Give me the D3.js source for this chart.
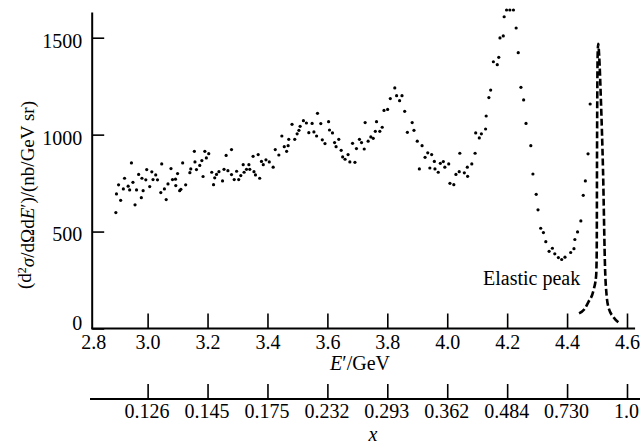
<!DOCTYPE html>
<html>
<head>
<meta charset="utf-8">
<script src="https://cdn.jsdelivr.net/npm/d3@7"></script>
<style>
  html, body { margin: 0; padding: 0; background: #fff; }
  svg { display: block; }
  svg text { font-family: "Liberation Serif", "Times New Roman", serif; fill: #000; }
</style>
</head>
<body>
<svg id="chart" width="640" height="446"></svg>
<script>
// ---------------- data ----------------
const energies = [
  2.894,2.896,2.903,2.910,2.919,2.923,2.935,2.940,2.946,2.951,2.958,2.963,2.970,2.979,2.981,2.985,2.994,2.997,3.007,3.014,
  3.018,3.027,3.033,3.044,3.047,3.056,3.062,3.068,3.078,3.083,3.093,3.094,3.100,3.107,3.111,3.117,3.127,3.141,3.144,3.156,
  3.158,3.163,3.174,3.181,3.185,3.191,3.196,3.204,3.214,3.220,3.224,3.230,3.238,3.250,3.255,3.262,3.268,3.280,3.280,3.289,
  3.297,3.304,3.311,3.319,3.322,3.330,3.338,3.341,3.352,3.355,3.360,3.369,3.374,3.380,3.386,3.395,3.406,3.419,3.426,3.438,
  3.448,3.456,3.464,3.469,3.471,3.482,3.491,3.499,3.505,3.509,3.520,3.530,3.538,3.549,3.555,3.564,3.567,3.578,3.583,3.592,
  3.604,3.607,3.617,3.624,3.629,3.638,3.646,3.651,3.659,3.669,3.675,3.684,3.692,3.697,3.707,3.714,3.723,3.726,3.736,3.745,
  3.753,3.760,3.764,3.775,3.783,3.789,3.801,3.810,3.825,3.831,3.841,3.849,3.858,3.867,3.883,3.889,3.900,3.907,3.916,3.926,
  3.935,3.942,3.948,3.957,3.959,3.970,3.977,3.987,3.992,4.005,4.009,4.022,4.029,4.040,4.042,
  4.057,4.068,4.067,4.082,4.093,4.095,4.107,4.114,4.128,4.130,4.139,4.145,4.154,4.167,4.172,4.176,4.187,4.190,4.198,4.209,
  4.221,4.230,4.237,4.246,4.255,4.263,4.279,4.286,4.297,4.303,4.312,4.321,4.329,4.340,4.351,4.359,4.371,4.382,4.393,4.412,
  4.423,4.426,4.435,4.446,4.454,4.461,4.470,4.477
];
const crossSections = [
  598,694,741,661,720,775,734,715,854,754,638,715,795,675,775,711,767,820,732,808,
  768,792,767,701,849,720,665,746,825,768,770,737,799,711,718,854,741,804,823,914,
  859,820,841,866,784,914,880,902,806,742,777,795,809,761,821,893,814,923,794,768,
  811,768,789,845,806,821,845,821,888,809,792,897,775,862,845,870,859,832,923,895,
  993,938,914,943,976,1053,976,1004,1022,1043,1072,1060,1010,1058,1014,993,1110,1057,973,954,
  1067,1024,1009,959,938,976,919,885,873,897,859,955,857,928,976,959,926,1062,966,988,
  981,1017,1067,1017,1038,1125,1130,1186,1241,1201,1175,1201,1120,1012,1062,1022,966,823,943,883,
  906,828,897,862,823,806,852,861,832,849,749,742,795,809,904,
  803,785,832,849,904,1009,983,1004,1029,1096,1191,1230,1376,1361,1399,1499,1509,1608,1643,1643,
  1643,1550,1423,1244,1179,1058,943,797,692,612,517,495,448,398,414,385,366,356,368,392,
  412,459,498,555,687,761,901,1158
];
// elastic peak (dashed curve)
const peakE = [4.440,4.457,4.471,4.488,4.497,4.499,4.500,4.502,4.504,4.507,4.513,4.520,4.527,4.532,4.538,4.555,4.571];
const peakV = [78,98,136,196,273,402,918,1410,1469,1410,1175,814,299,170,110,58,32];

const eTicks = [2.8,3.0,3.2,3.4,3.6,3.8,4.0,4.2,4.4,4.6];
const eTickLabels = ["2.8","3.0","3.2","3.4","3.6","3.8","4.0","4.2","4.4","4.6"];
const xBjTicks = [3.0,3.2,3.4,3.6,3.8,4.0,4.2,4.4,4.6];
const xBjLabels = ["0.126","0.145","0.175","0.232","0.293","0.362","0.484","0.730","1.0"];
const yTicks = [0,500,1000,1500];
const yTickLabels = ["0","500","1000","1500"];

// ---------------- scales ----------------
const SERIF = '"Liberation Serif", "Times New Roman", serif';
const svg = d3.select("#chart");
const x = d3.scaleLinear().domain([2.8, 4.6]).range([87.7, 627]);
const y = d3.scaleLinear().domain([0, 1500]).range([328.5, 37.7]);
const axisX = x(2.815);        // where the vertical axis sits
const FS = 20;

// ---------------- axes ----------------
svg.append("line")
  .attr("x1", axisX).attr("x2", axisX)
  .attr("y1", y(1630)).attr("y2", y(0))
  .attr("stroke", "#000").attr("stroke-width", 2);
svg.append("line")
  .attr("x1", axisX - 1).attr("x2", x(4.627))
  .attr("y1", y(0)).attr("y2", y(0))
  .attr("stroke", "#000").attr("stroke-width", 2);

function styleAxis(g) {
  g.attr("font-family", SERIF).attr("font-size", FS);
  g.select(".domain").remove();
  g.selectAll(".tick line").attr("stroke", "#000").attr("stroke-width", 1.6);
  g.selectAll(".tick text").attr("fill", "#000")
    .style("font-family", SERIF).style("font-size", FS + "px");
}

// y axis ticks (pointing right)
const yAxis = d3.axisLeft(y).tickValues(yTicks).tickFormat((d, i) => yTickLabels[i])
  .tickSizeInner(-12).tickSizeOuter(0).tickPadding(10);
const gy = svg.append("g").attr("transform", `translate(${axisX},0)`).call(yAxis);
styleAxis(gy);
gy.selectAll(".tick line").attr("x1", 0).attr("x2", 12);
gy.selectAll(".tick text").attr("x", -10)
  .attr("dy", d => d === 0 ? "0.05em" : "0.47em");

// E' axis ticks (pointing up)
const xAxis = d3.axisBottom(x).tickValues(eTicks).tickFormat((d, i) => eTickLabels[i])
  .tickSizeInner(-15).tickSizeOuter(0).tickPadding(6);
const gx = svg.append("g").attr("transform", `translate(0,${y(0)})`).call(xAxis);
styleAxis(gx);
gx.selectAll(".tick").filter(d => d === 2.8).select("line").remove();
gx.selectAll(".tick").filter(d => d === 2.8).select("text").attr("x", axisX - x(2.8) + 1);

// second (Bjorken x) axis
const lowerY = 399;
svg.append("line")
  .attr("x1", 90).attr("x2", 640).attr("y1", lowerY).attr("y2", lowerY)
  .attr("stroke", "#000").attr("stroke-width", 2);
const xAxis2 = d3.axisBottom(x).tickValues(xBjTicks).tickFormat((d, i) => xBjLabels[i])
  .tickSizeInner(-15).tickSizeOuter(0).tickPadding(5);
const gx2 = svg.append("g").attr("transform", `translate(0,${lowerY})`).call(xAxis2);
styleAxis(gx2);
gx2.selectAll(".tick text").attr("x", -1);

// ---------------- titles ----------------
const xt = svg.append("text").attr("x", 360).attr("y", 370)
  .attr("text-anchor", "middle").style("font-size", FS + "px");
xt.append("tspan").style("font-style", "italic").text("E");
xt.append("tspan").text("\u2032/GeV");

svg.append("text").attr("x", 373).attr("y", 441).attr("text-anchor", "middle")
  .style("font-size", FS + "px").style("font-style", "italic").text("x");

const yt = svg.append("text")
  .attr("transform", "translate(31,195) rotate(-90)")
  .attr("text-anchor", "middle").style("font-size", "19px");
yt.append("tspan").text("(d");
yt.append("tspan").attr("dy", "-0.45em").style("font-size", "12px").text("2");
yt.append("tspan").attr("dy", "0.45em").style("font-style", "italic").text("\u03C3");
yt.append("tspan").text("/d\u03A9d");
yt.append("tspan").style("font-style", "italic").text("E");
yt.append("tspan").text("\u2032)/(nb/GeV sr)");

svg.append("text").attr("x", 483).attr("y", 285)
  .style("font-size", FS + "px").text("Elastic peak");

// ---------------- marks ----------------
const pts = energies.map((e, i) => ({ e, v: crossSections[i] }));
svg.append("g").selectAll("circle").data(pts).join("circle")
  .attr("cx", d => x(d.e)).attr("cy", d => y(d.v)).attr("r", 1.6).attr("fill", "#000");

const peak = peakE.map((e, i) => ({ e, v: peakV[i] }));
svg.append("path").datum(peak)
  .attr("d", d3.line().x(d => x(d.e)).y(d => y(d.v)).curve(d3.curveMonotoneX))
  .attr("fill", "none").attr("stroke", "#000").attr("stroke-width", 2.6)
  .attr("stroke-dasharray", "7,3");
</script>
</body>
</html>
